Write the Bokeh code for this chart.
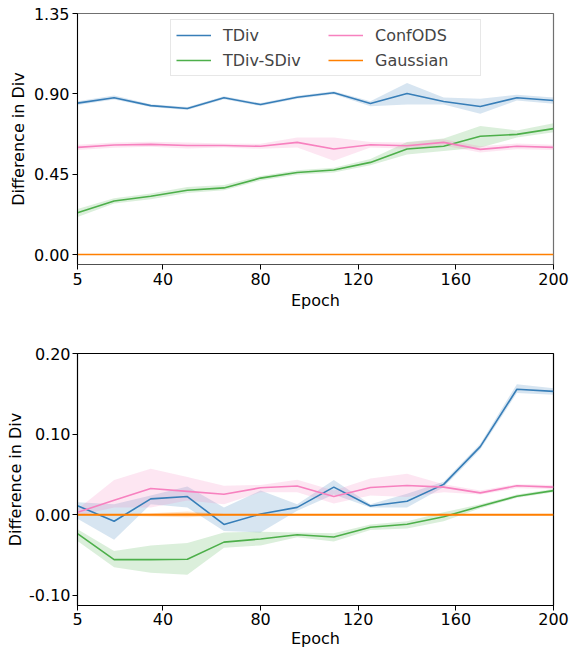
from bokeh.plotting import figure
from bokeh.layouts import column
from bokeh.models import Legend, LegendItem, FixedTicker, Range1d
from bokeh.embed import file_html
from bokeh.resources import INLINE

epochs = [5, 20, 35, 50, 65, 80, 95, 110, 125, 140, 155, 170, 185, 200]

# Top panel
top_tdiv = [0.848, 0.878, 0.834, 0.818, 0.878, 0.840, 0.881, 0.906, 0.846, 0.902, 0.857, 0.829, 0.878, 0.863]
top_tdiv_lo = [0.838, 0.868, 0.826, 0.810, 0.870, 0.832, 0.873, 0.898, 0.830, 0.840, 0.840, 0.788, 0.862, 0.845]
top_tdiv_hi = [0.858, 0.890, 0.842, 0.826, 0.886, 0.848, 0.889, 0.914, 0.858, 0.960, 0.880, 0.872, 0.895, 0.880]
top_sdiv = [0.234, 0.300, 0.326, 0.360, 0.373, 0.428, 0.459, 0.473, 0.516, 0.591, 0.606, 0.662, 0.673, 0.705]
top_sdiv_lo = [0.210, 0.285, 0.310, 0.345, 0.360, 0.415, 0.447, 0.460, 0.500, 0.560, 0.580, 0.600, 0.655, 0.685]
top_sdiv_hi = [0.255, 0.315, 0.342, 0.378, 0.390, 0.440, 0.472, 0.486, 0.535, 0.630, 0.650, 0.720, 0.695, 0.735]
top_conf = [0.600, 0.613, 0.617, 0.611, 0.611, 0.606, 0.628, 0.591, 0.615, 0.609, 0.628, 0.589, 0.606, 0.600]
top_conf_lo = [0.585, 0.598, 0.603, 0.594, 0.600, 0.592, 0.600, 0.525, 0.600, 0.592, 0.610, 0.572, 0.590, 0.585]
top_conf_hi = [0.615, 0.628, 0.632, 0.628, 0.622, 0.620, 0.656, 0.656, 0.630, 0.628, 0.645, 0.606, 0.622, 0.615]
top_gauss = [0.0] * 14

# Bottom panel
bot_tdiv = [0.0113, -0.008, 0.0197, 0.0226, -0.012, 0.001, 0.0092, 0.0343, 0.0109, 0.0167, 0.0377, 0.0845, 0.1556, 0.153]
bot_tdiv_lo = [-0.005, -0.031, 0.013, 0.009, -0.020, -0.022, 0.005, 0.025, 0.009, 0.009, 0.034, 0.081, 0.151, 0.149]
bot_tdiv_hi = [0.0155, 0.013, 0.024, 0.035, 0.009, 0.030, 0.013, 0.043, 0.013, 0.026, 0.041, 0.088, 0.162, 0.157]
bot_sdiv = [-0.0234, -0.0556, -0.0556, -0.0552, -0.0339, -0.030, -0.0247, -0.0276, -0.0155, -0.0117, -0.0025, 0.0105, 0.023, 0.030]
bot_sdiv_lo = [-0.0326, -0.065, -0.072, -0.0745, -0.041, -0.038, -0.028, -0.033, -0.019, -0.017, -0.008, 0.008, 0.021, 0.028]
bot_sdiv_hi = [-0.018, -0.045, -0.038, -0.035, -0.022, -0.021, -0.022, -0.023, -0.012, -0.008, 0.003, 0.013, 0.025, 0.032]
bot_conf = [0.003, 0.018, 0.0326, 0.029, 0.0255, 0.0335, 0.0356, 0.0226, 0.0339, 0.0364, 0.0343, 0.0272, 0.036, 0.0343]
bot_conf_lo = [-0.001, 0.009, 0.009, 0.0176, 0.013, 0.028, 0.028, 0.014, 0.024, 0.022, 0.028, 0.025, 0.033, 0.032]
bot_conf_hi = [0.007, 0.043, 0.057, 0.047, 0.036, 0.037, 0.0435, 0.030, 0.045, 0.051, 0.038, 0.030, 0.038, 0.037]
bot_gauss = [0.0, 0.0, 0.0, 0.0005, 0.0, 0.0, 0.0, 0.0, 0.0, 0.0, 0.0, 0.0, 0.0, 0.0]
bot_gauss_lo = [-0.001, -0.001, -0.002, -0.003, -0.001, -0.001, -0.001, -0.001, -0.001, -0.001, -0.001, -0.001, -0.001, -0.001]
bot_gauss_hi = [0.001, 0.001, 0.002, 0.004, 0.001, 0.001, 0.001, 0.001, 0.001, 0.001, 0.001, 0.001, 0.001, 0.001]

x_ticks = [5, 40, 80, 120, 160, 200]
top_yticks = [0.0, 0.45, 0.90, 1.35]
bot_yticks = [-0.10, 0.0, 0.10, 0.20]

BLUE = "#377eb8"
GREEN = "#4daf4a"
PINK = "#f781bf"
ORANGE = "#ff7f00"
FONT = "DejaVu Sans"


def style(p, yticks, fmt, label_standoff=3, title_standoff=3):
    p.xaxis.ticker = FixedTicker(ticks=x_ticks)
    p.yaxis.ticker = FixedTicker(ticks=yticks)
    p.yaxis.major_label_overrides = {t: fmt % t for t in yticks}
    p.xgrid.visible = False
    p.ygrid.visible = False
    for ax in (p.xaxis[0], p.yaxis[0]):
        ax.major_tick_out = 5
        ax.major_tick_in = 0
        ax.minor_tick_line_color = None
        ax.major_label_text_font = FONT
        ax.major_label_text_font_size = "16px"
        ax.major_label_text_color = "black"
        ax.axis_label_text_font = FONT
        ax.axis_label_text_font_size = "16px"
        ax.axis_label_text_font_style = "normal"
        ax.axis_label_text_color = "black"
        ax.axis_line_color = "black"
        ax.major_tick_line_color = "black"
        ax.major_label_standoff = label_standoff
        ax.axis_label_standoff = title_standoff
    p.xaxis.axis_label = "Epoch"
    p.yaxis.axis_label = "Difference in Div"


p1 = figure(width=575, height=312, output_backend="svg", toolbar_location=None,
            x_range=Range1d(5, 200), y_range=Range1d(-0.056, 1.35),
            min_border_left=77, min_border_right=18, min_border_top=13, min_border_bottom=20)
p1.outline_line_color = "#707070"
p1.outline_line_width = 1.2
style(p1, top_yticks, "%.2f")
p1.xaxis.axis_line_color = "#505050"

p1.varea(x=epochs, y1=top_tdiv_lo, y2=top_tdiv_hi, fill_color=BLUE, fill_alpha=0.2)
p1.varea(x=epochs, y1=top_sdiv_lo, y2=top_sdiv_hi, fill_color=GREEN, fill_alpha=0.2)
p1.varea(x=epochs, y1=top_conf_lo, y2=top_conf_hi, fill_color=PINK, fill_alpha=0.2)
r_tdiv = p1.line(epochs, top_tdiv, line_color=BLUE, line_width=1.6)
r_sdiv = p1.line(epochs, top_sdiv, line_color=GREEN, line_width=1.6)
r_conf = p1.line(epochs, top_conf, line_color=PINK, line_width=1.6)
r_gauss = p1.line(epochs, top_gauss, line_color=ORANGE, line_width=1.6)

legend = Legend(items=[
    LegendItem(label="TDiv", renderers=[r_tdiv]),
    LegendItem(label="TDiv-SDiv", renderers=[r_sdiv]),
    LegendItem(label="ConfODS", renderers=[r_conf]),
    LegendItem(label="Gaussian", renderers=[r_gauss]),
], ncols=2, location=(93, 188))
legend.label_text_font = FONT
legend.label_text_font_size = "16px"
legend.border_line_color = "#d0d0d0"
legend.background_fill_alpha = 0.85
legend.glyph_width = 35
legend.glyph_height = 18
legend.label_standoff = 12
legend.label_width = 100
legend.label_height = 20
legend.spacing = 5
legend.padding = 5
legend.margin = 0
p1.add_layout(legend, "center")

p2 = figure(width=575, height=338, output_backend="svg", toolbar_location=None,
            x_range=Range1d(5, 200), y_range=Range1d(-0.1125, 0.20),
            min_border_left=74, min_border_right=22, min_border_top=41, min_border_bottom=20)
p2.outline_line_color = "black"
p2.outline_line_width = 1.2
style(p2, bot_yticks, "%.2f", label_standoff=2, title_standoff=1)

p2.varea(x=epochs, y1=bot_tdiv_lo, y2=bot_tdiv_hi, fill_color=BLUE, fill_alpha=0.2)
p2.varea(x=epochs, y1=bot_sdiv_lo, y2=bot_sdiv_hi, fill_color=GREEN, fill_alpha=0.2)
p2.varea(x=epochs, y1=bot_conf_lo, y2=bot_conf_hi, fill_color=PINK, fill_alpha=0.2)
p2.varea(x=epochs, y1=bot_gauss_lo, y2=bot_gauss_hi, fill_color=ORANGE, fill_alpha=0.2)
p2.line(epochs, bot_tdiv, line_color=BLUE, line_width=1.6)
p2.line(epochs, bot_sdiv, line_color=GREEN, line_width=1.6)
p2.line(epochs, bot_conf, line_color=PINK, line_width=1.6)
p2.line(epochs, bot_gauss, line_color=ORANGE, line_width=2)

layout = column(p1, p2, spacing=0)
open("out.html", "w").write(file_html(layout, INLINE))
